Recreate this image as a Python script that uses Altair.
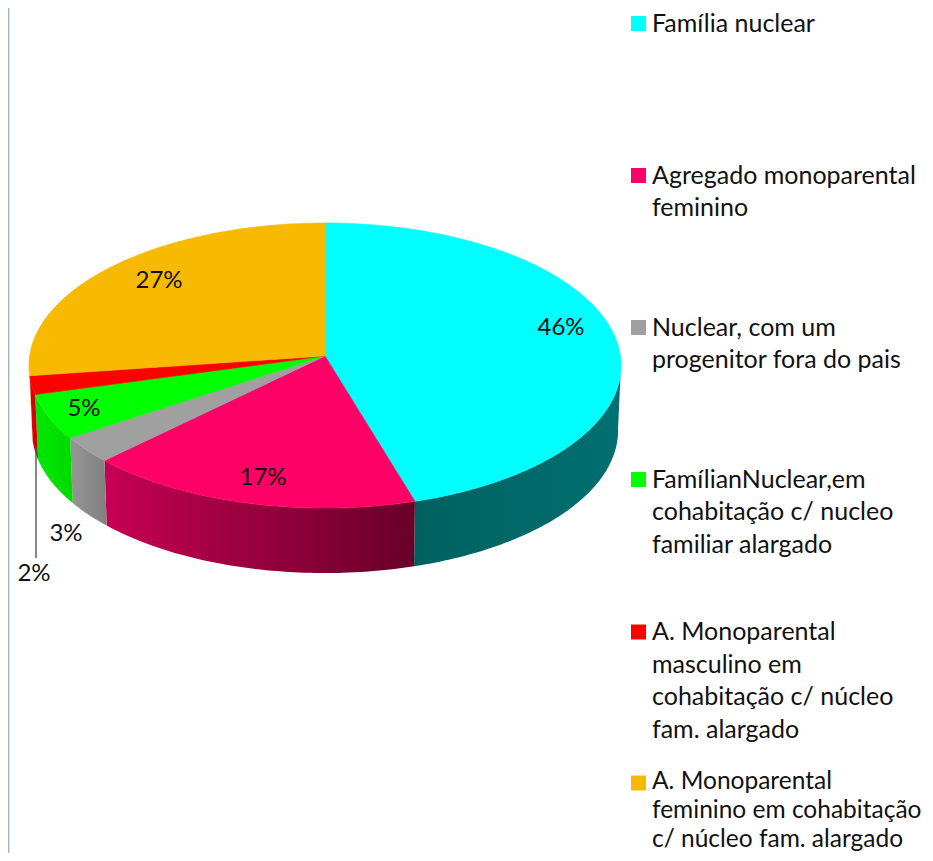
import math
import altair as alt

# ---- chart values ----
categories = ["Família nuclear", "Agregado monoparental\nfeminino",
              "Nuclear, com um\nprogenitor fora do pais",
              "FamílianNuclear,em\ncohabitação c/ nucleo\nfamiliar alargado",
              "A. Monoparental\nmasculino em\ncohabitação c/ núcleo\nfam. alargado",
              "A. Monoparental\nfeminino em cohabitação\nc/ núcleo fam. alargado"]
shares = [45.4, 17.2, 3.0, 5.1, 2.1, 27.2]
share_labels = ["46%", "17%", "3%", "5%", "2%", "27%"]
top_colors = ["#00FFFF", "#FF0066", "#A0A0A0", "#00FF00", "#FF0000", "#F8BA00"]
side_right = ["#007070", "#680028", "#808080", "#00DA00", "#CD0000", "#F8BA00"]
side_left = ["#006060", "#C60052", "#969696", "#00E800", "#E10000", "#F8BA00"]

# ---- layout (pixel positions of the page) ----
CX, CY, RX, RY, K, DEPTH = 325.0, 356.0, 295.4, 141.9, 0.0667, 65.0
label_x = [561, 263, 66, 84, 34, 159]
label_y = [328, 478, 534, 409, 574, 281]
legend_y = [23.5, 175.5, 327.5, 479.5, 632, 783]
W, H = 917, 845


def rim(deg, lower=False):
    a = math.radians(deg)
    u, v = math.sin(a), math.cos(a)
    d = 1 + K * v
    x = CX + (RX * 0.99 if lower else RX) * u / d
    y = CY - RY * v / d + (DEPTH if lower else 0)
    return [round(x, 2), round(y, 2)]


def feature(points, fill):
    return {"type": "Feature", "properties": {"fill": fill},
            "geometry": {"type": "Polygon", "coordinates": [points + [points[0]]]}}


def geo_data(features):
    return alt.InlineData(values={"type": "FeatureCollection", "features": features},
                          format=alt.DataFormat(property="features", type="json"))


PROJ = dict(type="identity", scale=1, translate=[-8, -8])

cum = 0.0
spans = []
for s in shares:
    spans.append((cum * 3.6, (cum + s) * 3.6))
    cum += s

# visible side walls: one shaded polygon per slice
walls = []
for (a0, a1), cl, cr in zip(spans, side_left, side_right):
    lo, hi = max(a0, 93.0), min(a1, 262.8)
    if hi <= lo:
        continue
    n = max(4, int(hi - lo))
    steps = [lo + (hi - lo) * i / n for i in range(n + 1)]
    poly = [rim(p) for p in steps] + [rim(p, True) for p in reversed(steps)]
    walls.append(
        alt.Chart(geo_data([feature(poly, cl)])).mark_geoshape(
            stroke=None,
            fill=alt.Gradient(gradient="linear", x1=0, x2=1, y1=0, y2=0,
                              stops=[alt.GradientStop(offset=0, color=cl),
                                     alt.GradientStop(offset=1, color=cr)]),
        ).project(**PROJ)
    )

# top faces
tops = []
for (a0, a1), col in zip(spans, top_colors):
    n = max(4, int(a1 - a0))
    pts = [[CX, CY]] + [rim(a0 + (a1 - a0) * i / n) for i in range(n + 1)]
    tops.append(feature(pts, col))

pie = alt.Chart(geo_data(tops)).mark_geoshape(strokeWidth=0.6).encode(
    fill=alt.Fill("properties.fill:N", scale=None),
    stroke=alt.Stroke("properties.fill:N", scale=None),
).project(**PROJ)

xs = alt.Scale(domain=[8, 8 + W], range=[0, W], nice=False, zero=False)
ys = alt.Scale(domain=[8, 8 + H], range=[0, H], nice=False, zero=False)
X = lambda f: alt.X(f, type="quantitative", scale=xs, axis=None)
Y = lambda f: alt.Y(f, type="quantitative", scale=ys, axis=None)

label_rows = [{"t": t, "x": x, "y": y} for t, x, y in zip(share_labels, label_x, label_y)]
labels = alt.Chart(alt.Data(values=label_rows)).mark_text(
    font="Lato", fontSize=24, color="#111111", align="center", baseline="middle"
).encode(x=X("x"), y=Y("y"), text="t:N")

leader = alt.Chart(alt.Data(values=[{"x": 36, "y": 448, "y2": 558}])).mark_rule(
    color="#555555", strokeWidth=1.4
).encode(x=X("x"), y=Y("y"), y2="y2:Q")

border = alt.Chart(alt.Data(values=[{"x": 8.6, "y": 8, "y2": 8 + H}])).mark_rule(
    color="#9FB3CF", strokeWidth=1.6
).encode(x=X("x"), y=Y("y"), y2="y2:Q")

legend_rows = [{"t": t, "c": c, "x": 638.5, "tx": 652, "y": y, "by": y + 8}
               for t, c, y in zip(categories, top_colors, legend_y)]
swatches = alt.Chart(alt.Data(values=legend_rows)).mark_square(size=225, opacity=1).encode(
    x=X("x"), y=Y("y"), fill=alt.Fill("c:N", scale=None), stroke=alt.value(None)
)
legend_text = alt.Chart(alt.Data(values=legend_rows[:-1])).mark_text(
    font="Lato", fontSize=25, color="#111111", align="left", baseline="alphabetic",
    lineBreak="\n", lineHeight=32.6
).encode(x=X("tx"), y=Y("by"), text="t:N")
# last entry sits against the page bottom and right: a touch smaller and tighter so it stays whole
last_rows = [dict(legend_rows[-1], by=legend_rows[-1]["y"] + 6)]
legend_last = alt.Chart(alt.Data(values=last_rows)).mark_text(
    font="Lato", fontSize=24.5, color="#111111", align="left", baseline="alphabetic",
    lineBreak="\n", lineHeight=29
).encode(x=X("tx"), y=Y("by"), text="t:N")

chart = alt.layer(border, *walls, pie, leader, labels, swatches, legend_text, legend_last).properties(
    width=W, height=H, padding=0,
    autosize=alt.AutoSizeParams(type="none"),
).configure_view(stroke=None)

chart.save("out.html", embed_options={"renderer": "svg", "actions": False})
